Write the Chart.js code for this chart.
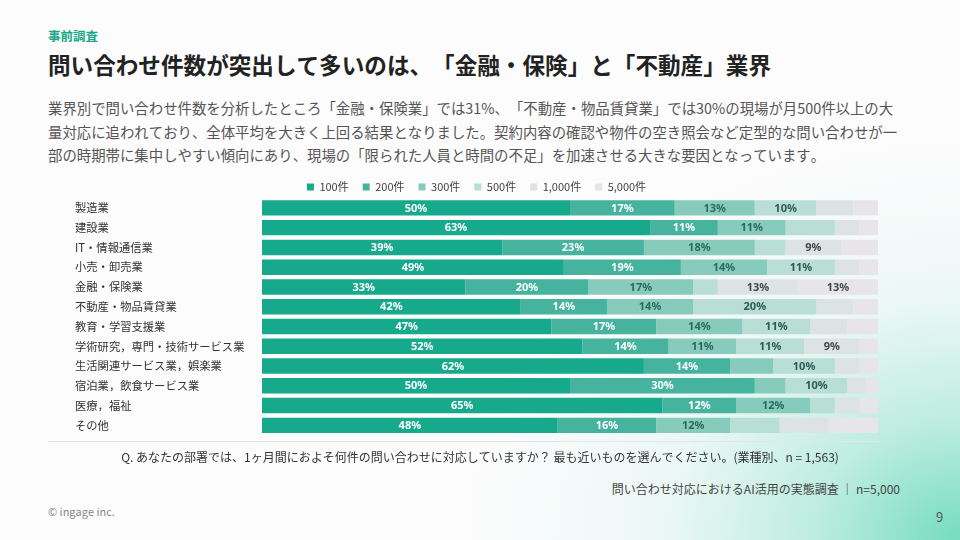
<!DOCTYPE html>
<html lang="ja">
<head>
<meta charset="utf-8">
<script src="https://cdn.jsdelivr.net/npm/chart.js@4/dist/chart.umd.min.js"></script>
<style>
  html, body { margin: 0; padding: 0; }
  body {
    width: 960px; height: 540px; overflow: hidden; position: relative;
    font-family: "Noto Sans CJK JP", "Noto Sans", sans-serif;
    text-spacing-trim: space-all;
    font-kerning: none;
    background:
      radial-gradient(ellipse 52% 75% at 100% 100%, rgba(110,218,190,0.95) 0%, rgba(170,232,215,0.75) 30%, rgba(215,243,236,0.45) 60%, rgba(255,255,255,0) 100%),
      #fdfcfd;
  }
  .t { position: absolute; white-space: nowrap; }
  #kicker { left: 48px; top: 26px; font-size: 12.5px; font-weight: 700; color: #19a887; }
  #title { left: 48px; top: 49px; font-size: 22.6px; font-weight: 700; color: #222; line-height: 32px; }
  #para { left: 48px; top: 96px; font-size: 14.4px; color: #555; line-height: 23.5px; }
  #q { left: 0; width: 960px; text-align: center; top: 448px; font-size: 12px; color: #333; }
  #src { right: 60px; top: 480px; font-size: 12px; color: #444; }
  #copy { left: 48px; top: 503px; font-size: 11px; color: #888; }
  #page { left: 936px; top: 507px; font-size: 13px; color: #555; }
  #sep { position: absolute; left: 48px; width: 832px; top: 441px; height: 1px; background: #e4e6e6; }
  #wrap { position: absolute; left: 0; top: 160px; width: 960px; height: 285px; }
</style>
</head>
<body>
<div class="t" id="kicker">事前調査</div>
<div class="t" id="title">問い合わせ件数が突出して多いのは、「金融・保険」と「不動産」業界</div>
<div class="t" id="para">業界別で問い合わせ件数を分析したところ「金融・保険業」では31%、「不動産・物品賃貸業」では30%の現場が月500件以上の大<br>量対応に追われており、全体平均を大きく上回る結果となりました。契約内容の確認や物件の空き照会など定型的な問い合わせが一<br>部の時期帯に集中しやすい傾向にあり、現場の「限られた人員と時間の不足」を加速させる大きな要因となっています。</div>
<div id="wrap"><canvas id="c" width="960" height="285"></canvas></div>
<div id="sep"></div>
<div class="t" id="q">Q. あなたの部署では、1ヶ月間におよそ何件の問い合わせに対応していますか？ 最も近いものを選んでください。(業種別、n = 1,563)</div>
<div class="t" id="src">問い合わせ対応におけるAI活用の実態調査 ｜ n=5,000</div>
<div class="t" id="copy">© ingage inc.</div>
<div class="t" id="page">9</div>

<script>
const categories = ['製造業','建設業','IT・情報通信業','小売・卸売業','金融・保険業','不動産・物品賃貸業','教育・学習支援業','学術研究，専門・技術サービス業','生活関連サービス業，娯楽業','宿泊業，飲食サービス業','医療，福祉','その他'];
const seriesNames = ['100件','200件','300件','500件','1,000件','5,000件'];
const v100  = [50,63,39,49,33,42,47,52,62,50,65,48];
const v200  = [17,11,23,19,20,14,17,14,14,30,12,16];
const v300  = [13,11,18,14,17,14,14,11, 7, 5,12,12];
const v500  = [10, 8, 5,11, 4,20,11,11,10,10, 4, 8];
const v1000 = [ 6, 4, 9, 4,13, 6, 6, 9, 4, 3, 4, 8];
const v5000 = [ 4, 3, 6, 3,13, 4, 5, 3, 3, 2, 3, 8];

const seriesValues = [v100, v200, v300, v500, v1000, v5000];
const colors = ['#17a98b','#45b39d','#87cbbc','#b8ded5','#dde3e3','#e8e5e8'];
const labelColors = ['#ffffff','#ffffff','#2b6a5f','#2e5a53','#3d4a48','#3d4a48'];

const labelPlugin = {
  id: 'segLabels',
  afterInit(chart) {
    const lg = chart.legend;
    if (lg && !lg._patched) {
      const f = lg.fit.bind(lg);
      lg.fit = function () { f(); this.height -= 4.5; };
      lg._patched = true;
    }
  },
  afterDatasetsDraw(chart) {
    const ctx = chart.ctx;
    ctx.save();
    ctx.font = 'bold 11px "Noto Sans", "Noto Sans CJK JP", sans-serif';
    ctx.textAlign = 'center';
    ctx.textBaseline = 'middle';
    chart.data.datasets.forEach((ds, di) => {
      const meta = chart.getDatasetMeta(di);
      meta.data.forEach((el, i) => {
        const v = ds.data[i];
        if (v >= 9) {
          ctx.fillStyle = labelColors[di];
          ctx.fillText(v + '%', (el.x + el.base) / 2, el.y + 0.5);
        }
      });
    });
    ctx.restore();
  }
};

new Chart(document.getElementById('c'), {
  type: 'bar',
  data: {
    labels: categories,
    datasets: seriesValues.map((vals, i) => ({
      label: seriesNames[i],
      data: vals,
      backgroundColor: colors[i],
      borderWidth: 0,
      barPercentage: 0.78,
      categoryPercentage: 1.0
    }))
  },
  options: {
    indexAxis: 'y',
    responsive: false,
    animation: false,
    devicePixelRatio: 1,
    layout: { padding: { left: 75, right: 82, top: 7.5, bottom: 7 } },
    plugins: {
      legend: {
        position: 'top',
        labels: {
          boxWidth: 7, boxHeight: 7, padding: 14,
          color: '#444',
          font: { size: 11, family: '"Noto Sans CJK JP", "Noto Sans", sans-serif' }
        }
      },
      tooltip: { enabled: false }
    },
    scales: {
      x: { stacked: true, min: 0, max: 100, display: false },
      y: {
        stacked: true,
        grid: { display: false },
        border: { display: false },
        ticks: {
          crossAlign: 'far',
          color: '#333',
          font: { size: 11.3, family: '"Noto Sans CJK JP", sans-serif' }
        },
        afterFit(scale) { scale.width = 187; }
      }
    }
  },
  plugins: [labelPlugin]
});
</script>
</body>
</html>
